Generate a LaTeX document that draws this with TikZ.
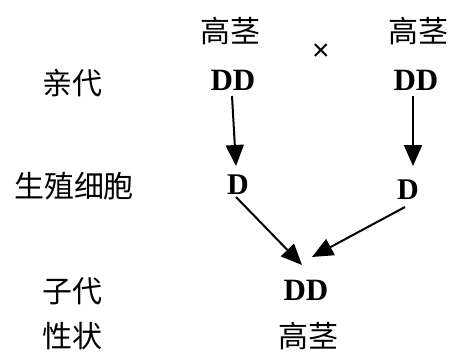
\documentclass[tikz,border=0pt]{standalone}
\usepackage{fontspec}
\newfontfamily\cjk{Noto Sans CJK SC}
\newfontfamily\tms{Liberation Serif}
\newfontfamily\arl{Liberation Sans}
\usetikzlibrary{arrows.meta}
\begin{document}
\begin{tikzpicture}[x=1pt,y=-1pt,
  lbl/.style={inner sep=0pt,font=\cjk\fontsize{30}{30}\selectfont},
  geno/.style={inner sep=0pt,font=\tms\bfseries\fontsize{31}{31}\selectfont},
  gam/.style={inner sep=0pt,font=\tms\bfseries\fontsize{30}{30}\selectfont},
  conn/.style={line width=2pt,-{Triangle[width=18pt,length=21pt]}}]
\useasboundingbox (0,0) rectangle (450,351);
\node[lbl] (p1) at (230,31) {高茎};
\node[lbl] (p2) at (418,31) {高茎};
\node[inner sep=0pt,font=\arl\fontsize{30}{30}\selectfont] (x) at (321,52) {×};
\node[lbl] (qd) at (72,83) {亲代};
\node[geno] (dd1) at (233,80) {DD};
\node[geno] (dd2) at (416,80) {DD};
\node[lbl] (sz) at (74,186) {生殖细胞};
\node[gam] (g1) at (238,185) {D};
\node[gam] (g2) at (408,190) {D};
\node[lbl] (zd) at (72,291) {子代};
\node[geno] (f1) at (306,290) {DD};
\node[lbl] (xz) at (72,336) {性状};
\node[lbl] (ph) at (308,336) {高茎};
\coordinate (s1) at (232,96);
\coordinate (t1) at (236,166);
\coordinate (s2) at (413,96);
\coordinate (t2) at (413,166);
\coordinate (s3) at (236,197);
\coordinate (t3) at (302,265);
\coordinate (s4) at (405,207);
\coordinate (t4) at (312,257);
\draw[conn] (s1) -- (t1);
\draw[conn] (s2) -- (t2);
\draw[conn] (s3) -- (t3);
\draw[conn] (s4) -- (t4);
\end{tikzpicture}
\end{document}
